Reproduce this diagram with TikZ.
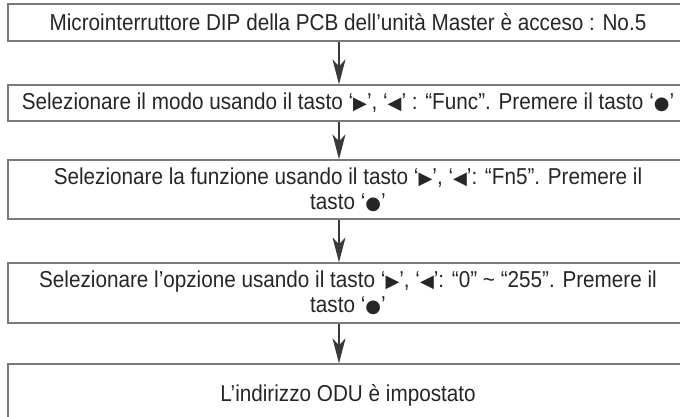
\documentclass[tikz,border=0pt]{standalone}
\usepackage{fontspec}
\setmainfont[FakeStretch=0.9]{Liberation Sans}
\newfontfamily\symf{DejaVu Sans}
\usetikzlibrary{arrows.meta}
\definecolor{boxline}{HTML}{7A7A7A}
\definecolor{txt}{HTML}{262626}
\definecolor{arr}{HTML}{3A3A3A}
\newcommand{\rtri}{{\symf\fontsize{18}{18}\selectfont ▶}}
\newcommand{\ltri}{{\symf\fontsize{18}{18}\selectfont ◀}}
\newcommand{\bdot}{{\symf\fontsize{18}{18}\selectfont ●}}
\tikzset{
  flowbox/.style={draw=boxline, line width=1.3pt, rectangle, inner sep=0pt,
    minimum width=680pt, align=center, text=txt, font=\fontsize{23}{25}\selectfont},
  flowarrow/.style={draw=arr, line width=1.1pt, -{Stealth[length=25pt,width=13pt,inset=7pt]}}
}
\begin{document}
\begin{tikzpicture}[x=1pt,y=-1pt]
\useasboundingbox (0,0) rectangle (680,416);
\clip (0,0) rectangle (680,416);
\node[flowbox, minimum height=37pt] (b1) at (348,22.5) {Microinterruttore DIP della PCB dell’unità Master è acceso : No.5};
\node[flowbox, minimum height=36pt] (b2) at (348,103) {Selezionare il modo usando il tasto ‘\rtri’, ‘\ltri’ : “Func”. Premere il tasto ‘\bdot’};
\node[flowbox, minimum height=59pt] (b3) at (348,189.5) {Selezionare la funzione usando il tasto ‘\rtri’, ‘\ltri’: “Fn5”. Premere il\\tasto ‘\bdot’};
\node[flowbox, minimum height=60pt] (b4) at (348,293) {Selezionare l’opzione usando il tasto ‘\rtri’, ‘\ltri’: “0” \textasciitilde{} “255”. Premere il\\tasto ‘\bdot’};
\node[flowbox, minimum height=62pt] (b5) at (348,395) {L’indirizzo ODU è impostato};
\draw[flowarrow] (b1.south -| 339,0) -- (b2.north -| 339,0);
\draw[flowarrow] (b2.south -| 339,0) -- (b3.north -| 339,0);
\draw[flowarrow] (b3.south -| 339,0) -- (b4.north -| 339,0);
\draw[flowarrow] (b4.south -| 339,0) -- (b5.north -| 339,0);
\end{tikzpicture}
\end{document}
